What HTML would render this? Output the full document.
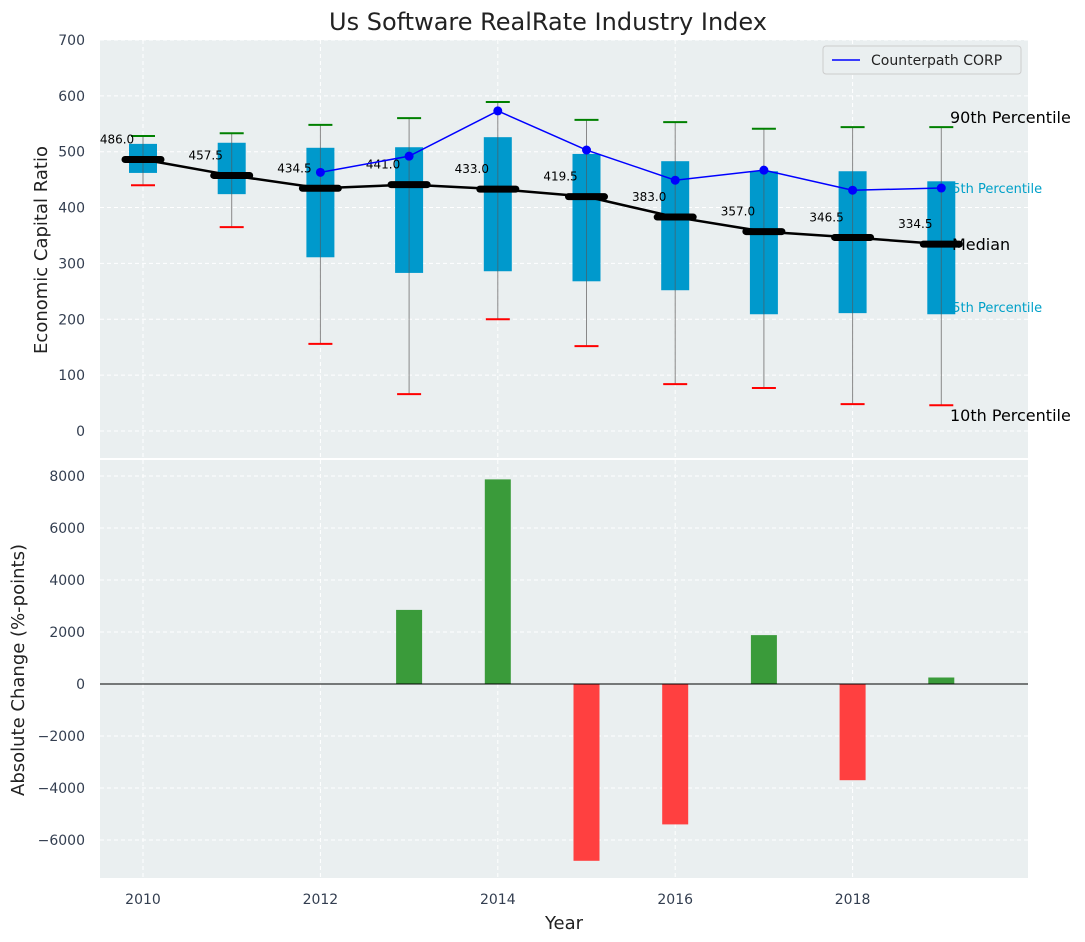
<!DOCTYPE html>
<html><head><meta charset="utf-8"><style>
body{margin:0;background:#fff;}
svg{display:block;font-family:"DejaVu Sans","Liberation Sans",sans-serif;}
</style></head><body>
<svg id="c" width="1085" height="942"></svg>
<script>
const years=[2010,2011,2012,2013,2014,2015,2016,2017,2018,2019];
const q1=[462,424,311,283,286,268,252,209,211,209];
const q3=[514,516,507,508,526,496,483,465,465,447];
const p10=[440,365,156,66,200,152,84,77,48,46];
const p90=[528,533,548,560,589,557,553,541,544,544];
const medians=[486.0,457.5,434.5,441.0,433.0,419.5,383.0,357.0,346.5,334.5];
const cpYears=[2012,2013,2014,2015,2016,2017,2018,2019];
const cpVals=[463,492,573,503,449,467,431,435];
const chYears=[2013,2014,2015,2016,2017,2018,2019];
const chVals=[2850,7870,-6800,-5400,1880,-3700,250];
const topTicks=[0,100,200,300,400,500,600,700];
const botTicks=[-6000,-4000,-2000,0,2000,4000,6000,8000];
const xTicks=[2010,2012,2014,2016,2018];

const NS="http://www.w3.org/2000/svg";
const svg=document.getElementById('c');
function el(t,a,txt){const e=document.createElementNS(NS,t);for(const k in a)e.setAttribute(k,a[k]);if(txt!==undefined)e.textContent=txt;svg.appendChild(e);return e;}
const L=100,R=1028;
const x=v=>143+(v-2010)*88.7;
const yT=v=>431-v*0.5586;
const yB=v=>684-v*0.026;

let e;
e=el('rect',{x:L,y:40,width:R-L,height:418,fill:'#eaeff0'});

e=el('rect',{x:L,y:460,width:R-L,height:418,fill:'#eaeff0'});


xTicks.forEach(t=>{
 e=el('line',{x1:x(t),x2:x(t),y1:40,y2:458,stroke:'#fff','stroke-dasharray':'4,3','stroke-width':1});
 
 e=el('line',{x1:x(t),x2:x(t),y1:460,y2:878,stroke:'#fff','stroke-dasharray':'4,3','stroke-width':1});
 
 e=el('text',{x:x(t),y:904,'text-anchor':'middle','font-size':14,fill:'#333e50'},t);
 
});
topTicks.forEach(t=>{
 e=el('line',{x1:L,x2:R,y1:yT(t),y2:yT(t),stroke:'#fff','stroke-dasharray':'4,3'});
 
 e=el('text',{x:85,y:yT(t)+5,'text-anchor':'end','font-size':14,fill:'#333e50'},t);
 
});
botTicks.forEach(t=>{
 e=el('line',{x1:L,x2:R,y1:yB(t),y2:yB(t),stroke:'#fff','stroke-dasharray':'4,3'});
 
 e=el('text',{x:85,y:yB(t)+5,'text-anchor':'end','font-size':14,fill:'#333e50'},(t<0?'\u2212'+(-t):t));
 
});

// right-side labels (drawn under boxes)
const i9=years.length-1, xr=950;
[['90th Percentile',p90[i9]+18,'#000',16],['75th Percentile',q3[i9]-12,'#00a0c8',13],['25th Percentile',q1[i9]+13,'#00a0c8',13],['10th Percentile',p10[i9]-17,'#000',16]].forEach(d=>{
 e=el('text',{x:d[3]==16?xr:xr-6,y:yT(d[1])+(d[3]==16?6:5),'font-size':d[3],fill:d[2]},d[0]);
 
});

years.forEach((yr,i)=>{
 const cx=x(yr);
 e=el('line',{x1:cx,x2:cx,y1:yT(p90[i]),y2:yT(p10[i]),stroke:'#888','stroke-width':1});
 
 e=el('rect',{x:cx-14,y:yT(q3[i]),width:28,height:yT(q1[i])-yT(q3[i]),fill:'#0099cc'});
 
 e=el('line',{x1:cx,x2:cx,y1:yT(q3[i]),y2:yT(q1[i]),stroke:'#555','stroke-width':1,opacity:0.6});
 
 e=el('line',{x1:cx-12,x2:cx+12,y1:yT(p90[i]),y2:yT(p90[i]),stroke:'green','stroke-width':2});
 
 e=el('line',{x1:cx-12,x2:cx+12,y1:yT(p10[i]),y2:yT(p10[i]),stroke:'red','stroke-width':2});
 
});
e=el('text',{x:xr+2,y:yT(medians[i9])+6,'font-size':16,fill:'#000'},'Median');


// median line
e=el('polyline',{points:years.map((yr,i)=>x(yr)+','+yT(medians[i])).join(' '),fill:'none',stroke:'#000','stroke-width':2.5});

years.forEach((yr,i)=>{
 e=el('line',{x1:x(yr)-18,x2:x(yr)+18,y1:yT(medians[i]),y2:yT(medians[i]),stroke:'#000','stroke-width':7,'stroke-linecap':'round'});
 
 e=el('text',{x:x(yr)-26,y:yT(medians[i])-16,'text-anchor':'middle','font-size':12,fill:'#000'},medians[i].toFixed(1));
 
});

// counterpath
e=el('polyline',{points:cpYears.map((yr,i)=>x(yr)+','+yT(cpVals[i])).join(' '),fill:'none',stroke:'#0000ff','stroke-width':1.5});

cpYears.forEach((yr,i)=>{
 e=el('circle',{cx:x(yr),cy:yT(cpVals[i]),r:4.5,fill:'#0000ff'});
 
});

// legend
e=el('rect',{x:823,y:46,width:198,height:28,rx:3,fill:'#eaeff0',stroke:'#ccc'});

e=el('line',{x1:832,x2:860,y1:60,y2:60,stroke:'#0000ff','stroke-width':1.5});

e=el('text',{x:871,y:65,'font-size':14,fill:'#222'},'Counterpath CORP');


// bottom bars
chYears.forEach((yr,i)=>{
 const v=chVals[i],y0=yB(Math.max(v,0)),h=Math.abs(yB(v)-yB(0));
 e=el('rect',{x:x(yr)-13,y:y0,width:26,height:h,fill:v>=0?'#3a9b3a':'#ff4040'});
 
});
e=el('line',{x1:L,x2:R,y1:yB(0),y2:yB(0),stroke:'#000','stroke-width':1});


// titles
e=el('text',{x:548,y:30,'text-anchor':'middle','font-size':24,fill:'#222'},'Us Software RealRate Industry Index');

e=el('text',{x:47,y:250,'text-anchor':'middle','font-size':18,fill:'#222',transform:'rotate(-90 47 250)'},'Economic Capital Ratio');

e=el('text',{x:24,y:670,'text-anchor':'middle','font-size':18,fill:'#222',transform:'rotate(-90 24 670)'},'Absolute Change (%-points)');

e=el('text',{x:564,y:929,'text-anchor':'middle','font-size':18,fill:'#222'},'Year');

</script>
</body></html>
